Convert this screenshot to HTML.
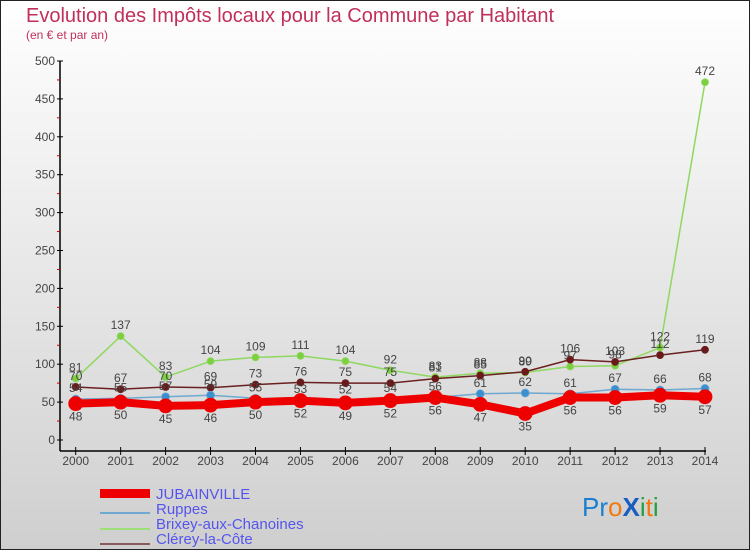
<!DOCTYPE html>
<html><head><meta charset="utf-8"><style>
body{margin:0;}
#c{width:750px;height:550px;position:relative;font-family:"Liberation Sans",sans-serif;}
svg{position:absolute;left:0;top:0;}
</style></head><body>
<div id="c">
<svg id="s" width="750" height="550" xmlns="http://www.w3.org/2000/svg">
<defs><linearGradient id="bg" x1="0" y1="0" x2="0" y2="1"><stop offset="0" stop-color="#ffffff"/><stop offset="1" stop-color="#cfcfcf"/></linearGradient></defs>
<rect x="0.5" y="0.5" width="749" height="549" fill="url(#bg)" stroke="#222"/>
<text x="26" y="22" font-size="20" fill="#c0305a">Evolution des Impôts locaux pour la Commune par Habitant</text>
<text x="26" y="39" font-size="12" fill="#c0305a">(en € et par an)</text>
<g id="axes"></g><g id="series"></g>
<g>
<rect x="100" y="489" width="50" height="9" fill="#e00"/>
<text x="156" y="499" font-size="15" fill="#5555ee">JUBAINVILLE</text>
<line x1="100" y1="513" x2="150" y2="513" stroke="#6fa8d0" stroke-width="2"/>
<text x="156" y="514" font-size="15" fill="#5555ee">Ruppes</text>
<line x1="100" y1="529" x2="150" y2="529" stroke="#9de07a" stroke-width="2"/>
<text x="156" y="529" font-size="15" fill="#5555ee">Brixey-aux-Chanoines</text>
<line x1="100" y1="544" x2="150" y2="544" stroke="#8a5a5a" stroke-width="2"/>
<text x="156" y="544" font-size="15" fill="#5555ee">Clérey-la-Côte</text>
</g>
<text x="582" y="516" font-size="26" font-family="Liberation Sans, sans-serif"><tspan fill="#1a7fd0">Pr</tspan><tspan fill="#f07a10">o</tspan><tspan fill="#1a5fc0" font-weight="bold">X</tspan><tspan fill="#20a040">i</tspan><tspan fill="#f07a10">t</tspan><tspan fill="#20a040">i</tspan></text>
</svg></div>
<script>
const years=[2000,2001,2002,2003,2004,2005,2006,2007,2008,2009,2010,2011,2012,2013,2014];
const yTicks=[0,50,100,150,200,250,300,350,400,450,500];
const jubainville=[48,50,45,46,50,52,49,52,56,47,35,56,56,59,57];
const ruppes=[54,55,57,59,55,53,52,54,56,61,62,61,67,66,68];
const brixey=[81,137,83,104,109,111,104,92,83,88,89,97,98,122,472];
const clerey=[70,67,70,69,73,76,75,75,81,85,90,106,103,112,119];
const NS="http://www.w3.org/2000/svg";
const xs=i=>75.7+i*44.95;
const ys=v=>440-v*0.758;
function mk(tag,attrs,parent){const e=document.createElementNS(NS,tag);for(const k in attrs)e.setAttribute(k,attrs[k]);parent.appendChild(e);return e;}
const ax=document.getElementById('axes');
let l=mk('line',{x1:60,y1:61,x2:60,y2:451,stroke:'#000','stroke-width':1.5},ax);


l=mk('line',{x1:60,y1:451,x2:706,y2:451,stroke:'#000','stroke-width':1.5},ax);


yTicks.forEach(v=>{
 mk('line',{x1:57,y1:ys(v),x2:63,y2:ys(v),stroke:'#000'},ax);
 if(v<500)mk('line',{x1:57,y1:ys(v+25),x2:60,y2:ys(v+25),stroke:'#c00'},ax);
 const t=mk('text',{x:55,y:ys(v)+4,'font-size':12,'text-anchor':'end',fill:'#444'},ax);
 t.textContent=v;
 
 
});
years.forEach((y,i)=>{
 mk('line',{x1:xs(i),y1:447,x2:xs(i),y2:455,stroke:'#000'},ax);
 const t=mk('text',{x:xs(i),y:465,'font-size':12,'text-anchor':'middle',fill:'#444'},ax);
 t.textContent=y;
 
 
});
const sg=document.getElementById('series');
function draw(vals,name,color,w,r,dot,labelBelow){
 const g=mk('g',{},sg);
 
 
 const p=mk('polyline',{points:vals.map((v,i)=>xs(i)+','+ys(v)).join(' '),fill:'none',stroke:color,'stroke-width':w,'stroke-linejoin':'round'},g);
 
 
 vals.forEach((v,i)=>{
  const c=mk('circle',{cx:xs(i),cy:ys(v),r:r,fill:dot,stroke:color,'stroke-width':0.8},g);
  
  
  const t=mk('text',{x:xs(i),y:labelBelow?ys(v)+17:ys(v)-7,'font-size':12,'text-anchor':'middle',fill:'#444'},g);
  t.textContent=v;
  
  
 });
}
draw(brixey,'brixey','#8fd860',1.5,3.5,'#7cd040',false);
draw(clerey,'clerey','#6a2020',1.5,3.5,'#6a1a1a',false);
draw(ruppes,'ruppes','#6fa8d0',1.5,4,'#3a8fd0',false);
draw(jubainville,'jubainville','#ee0000',8,7,'#ee0000',true);
</script>
</body></html>
